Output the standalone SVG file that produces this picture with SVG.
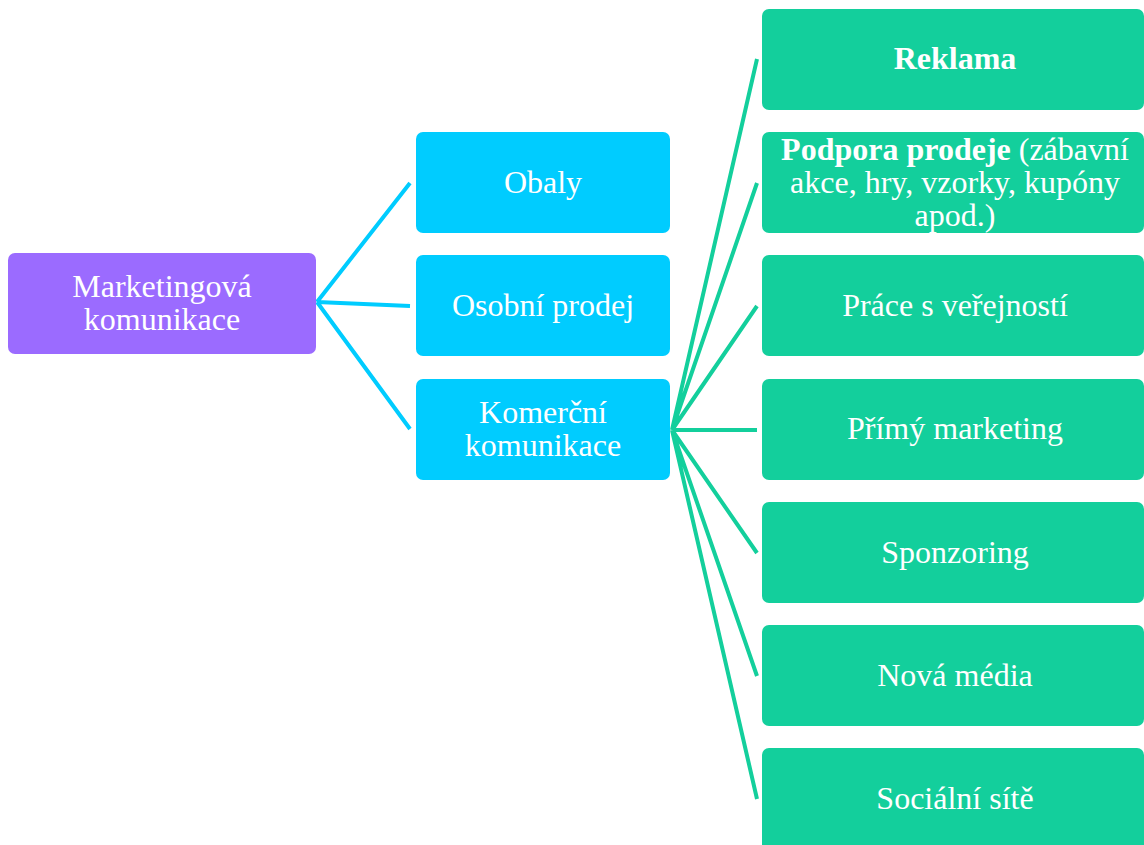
<svg xmlns="http://www.w3.org/2000/svg" width="1144" height="845" viewBox="0 0 1144 845">
<style>
.t{font-family:"Liberation Serif","Times New Roman",serif;font-size:32px;fill:#fff;text-anchor:middle}
.b{font-weight:bold}
.root{fill:#9B6BFF}
.l1{fill:#00CCFF}
.l2{fill:#13CF9C}
.c1{stroke:#00CCFF;stroke-width:4;fill:none}
.c2{stroke:#13CF9C;stroke-width:4;fill:none}
</style>
<rect width="1144" height="845" fill="#fff"/>
<g id="connectors">
<path class="c1" d="M317,302 L410,183 M317,302 L410,306 M317,302 L410,429"/>
<path class="c2" d="M672,430 L757,59 M672,430 L757,183 M672,430 L757,306 M672,430 L757,430 M672,430 L757,553 M672,430 L757,676 M672,430 L757,799"/>
</g>
<g id="n-root"><rect class="root" x="8" y="253" width="308" height="101" rx="7"/>
<text class="t" x="162" y="297">Marketingová</text><text class="t" x="162" y="330">komunikace</text></g>
<g id="n-obaly"><rect class="l1" x="416" y="132" width="254" height="101" rx="7"/>
<text class="t" x="543" y="193">Obaly</text></g>
<g id="n-osobni"><rect class="l1" x="416" y="255" width="254" height="101" rx="7"/>
<text class="t" x="543" y="316">Osobní prodej</text></g>
<g id="n-komercni"><rect class="l1" x="416" y="379" width="254" height="101" rx="7"/>
<text class="t" x="543" y="423">Komerční</text><text class="t" x="543" y="456">komunikace</text></g>
<g id="n-reklama"><rect class="l2" x="762" y="9" width="382" height="101" rx="7"/>
<text class="t b" x="955" y="69">Reklama</text></g>
<g id="n-podpora"><rect class="l2" x="762" y="132" width="382" height="101" rx="7"/>
<text class="t" x="955" y="160"><tspan class="b">Podpora prodeje</tspan> (zábavní</text>
<text class="t" x="955" y="193">akce, hry, vzorky, kupóny</text>
<text class="t" x="955" y="226">apod.)</text></g>
<g id="n-prace"><rect class="l2" x="762" y="255" width="382" height="101" rx="7"/>
<text class="t" x="955" y="316">Práce s veřejností</text></g>
<g id="n-primy"><rect class="l2" x="762" y="379" width="382" height="101" rx="7"/>
<text class="t" x="955" y="439">Přímý marketing</text></g>
<g id="n-sponzoring"><rect class="l2" x="762" y="502" width="382" height="101" rx="7"/>
<text class="t" x="955" y="563">Sponzoring</text></g>
<g id="n-nova"><rect class="l2" x="762" y="625" width="382" height="101" rx="7"/>
<text class="t" x="955" y="686">Nová média</text></g>
<g id="n-socialni"><rect class="l2" x="762" y="748" width="382" height="110" rx="7"/>
<text class="t" x="955" y="809">Sociální sítě</text></g>
</svg>
